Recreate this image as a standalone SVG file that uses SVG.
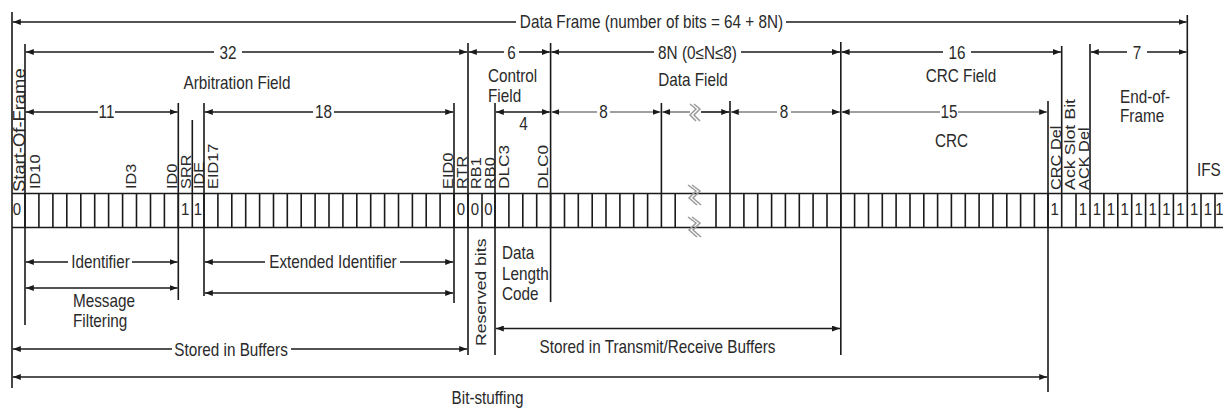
<svg xmlns="http://www.w3.org/2000/svg" width="1223" height="408" viewBox="0 0 1223 408">
<style>
.t{font-family:"Liberation Sans",Arial,sans-serif;font-size:15.3px;fill:#2a2a2a}
.m{text-anchor:middle}
.d{font-family:"Liberation Sans",Arial,sans-serif;font-size:15px;fill:#2a2a2a;text-anchor:middle}
.v{font-family:"Liberation Sans",Arial,sans-serif;font-size:14.2px;fill:#2a2a2a}
.ln{stroke:#1a1a1a;stroke-width:1.6;fill:none}
.gr{stroke:#808080;stroke-width:1.6;fill:none}
.a{marker-end:url(#ah)}
.s{marker-start:url(#ah)}
.b{marker-start:url(#ah);marker-end:url(#ah)}
.sq{stroke:#9a9a9a;stroke-width:1.5;fill:none}
</style>
<defs>
<marker id="ah" viewBox="0 0 10 10" refX="10" refY="5" markerWidth="8" markerHeight="6" markerUnits="userSpaceOnUse" orient="auto-start-reverse" preserveAspectRatio="none"><path d="M0,0 L10,5 L0,10 z" fill="#1a1a1a"/></marker>
</defs>
<rect width="1223" height="408" fill="#fff"/>

<g id="bit-row">
<path class="ln" d="M12,193.5 H1223 M12,227.5 H1223"/>
<path class="ln" stroke-width="1.4" d="M25,193.5V227.5 M38.9,193.5V227.5 M52.9,193.5V227.5 M66.8,193.5V227.5 M80.8,193.5V227.5 M94.7,193.5V227.5 M108.6,193.5V227.5 M122.6,193.5V227.5 M136.5,193.5V227.5 M150.5,193.5V227.5 M164.4,193.5V227.5 M178.3,193.5V227.5 M192.3,193.5V227.5 M204,193.5V227.5 M217.9,193.5V227.5 M231.8,193.5V227.5 M245.7,193.5V227.5 M259.6,193.5V227.5 M273.5,193.5V227.5 M287.3,193.5V227.5 M301.2,193.5V227.5 M315.1,193.5V227.5 M329,193.5V227.5 M342.9,193.5V227.5 M356.8,193.5V227.5 M370.7,193.5V227.5 M384.6,193.5V227.5 M398.5,193.5V227.5 M412.4,193.5V227.5 M426.2,193.5V227.5 M440.1,193.5V227.5 M454,193.5V227.5 M468,193.5V227.5 M482,193.5V227.5 M495,193.5V227.5 M508.9,193.5V227.5 M522.8,193.5V227.5 M536.7,193.5V227.5 M550.6,193.5V227.5 M564.5,193.5V227.5 M578.3,193.5V227.5 M592.2,193.5V227.5 M606,193.5V227.5 M619.9,193.5V227.5 M633.7,193.5V227.5 M647.6,193.5V227.5 M661.4,193.5V227.5 M675.2,193.5V227.5 M716,193.5V227.5 M730,193.5V227.5 M743.9,193.5V227.5 M757.7,193.5V227.5 M771.6,193.5V227.5 M785.4,193.5V227.5 M799.3,193.5V227.5 M813.1,193.5V227.5 M827,193.5V227.5 M840.8,193.5V227.5 M854.6,193.5V227.5 M868.5,193.5V227.5 M882.3,193.5V227.5 M896.1,193.5V227.5 M910,193.5V227.5 M923.8,193.5V227.5 M937.6,193.5V227.5 M951.4,193.5V227.5 M965.3,193.5V227.5 M979.1,193.5V227.5 M992.9,193.5V227.5 M1006.8,193.5V227.5 M1020.6,193.5V227.5 M1034.4,193.5V227.5 M1048,193.5V227.5 M1061.7,193.5V227.5 M1076,193.5V227.5 M1090,193.5V227.5 M1103.9,193.5V227.5 M1117.8,193.5V227.5 M1131.7,193.5V227.5 M1145.6,193.5V227.5 M1159.5,193.5V227.5 M1173.4,193.5V227.5 M1187.3,193.5V227.5 M1215,193.5V227.5"/>
<path class="ln" stroke-width="2.6" d="M1201,193.5V227.5"/>
<path class="sq" d="M688,185 L696,191 L689,198 L697,205 M692,185 L700,191 L693,198 L701,205"/>
<path class="sq" d="M688,217 L696,223 L689,230 L697,237 M692,217 L700,223 L693,230 L701,237"/>
<g id="bit-values">
<text class="d" transform="translate(17,215) scale(1,1.15)">0</text>
<text class="d" transform="translate(185.3,215) scale(1,1.15)">1</text>
<text class="d" transform="translate(198,215) scale(1,1.15)">1</text>
<text class="d" transform="translate(461,215) scale(1,1.15)">0</text>
<text class="d" transform="translate(475,215) scale(1,1.15)">0</text>
<text class="d" transform="translate(488.5,215) scale(1,1.15)">0</text>
<text class="d" transform="translate(1054.8,215) scale(1,1.15)">1</text>
<text class="d" transform="translate(1083,215) scale(1,1.15)">1</text>
<text class="d" transform="translate(1097,215) scale(1,1.15)">1</text>
<text class="d" transform="translate(1110.9,215) scale(1,1.15)">1</text>
<text class="d" transform="translate(1124.8,215) scale(1,1.15)">1</text>
<text class="d" transform="translate(1138.7,215) scale(1,1.15)">1</text>
<text class="d" transform="translate(1152.6,215) scale(1,1.15)">1</text>
<text class="d" transform="translate(1166.5,215) scale(1,1.15)">1</text>
<text class="d" transform="translate(1180.4,215) scale(1,1.15)">1</text>
<text class="d" transform="translate(1194.2,215) scale(1,1.15)">1</text>
<text class="d" transform="translate(1208,215) scale(1,1.15)">1</text>
<text class="d" transform="translate(1219.5,215) scale(1,1.15)">1</text>
</g>
</g>

<g id="bit-labels">
<text class="v" style="font-size:16px" transform="translate(24.5,192) rotate(-90) scale(1.15,1)">Start-Of-Frame</text>
<text class="v" transform="translate(39.5,189) rotate(-90) scale(1.15,1)">ID10</text>
<text class="v" transform="translate(135.5,189) rotate(-90) scale(1.15,1)">ID3</text>
<text class="v" transform="translate(177.3,189) rotate(-90) scale(1.15,1)">ID0</text>
<text class="v" transform="translate(191.3,189) rotate(-90) scale(1.15,1)">SRR</text>
<text class="v" transform="translate(203.5,189) rotate(-90) scale(1.15,1)">IDE</text>
<text class="v" transform="translate(218,189) rotate(-90) scale(1.15,1)">EID17</text>
<text class="v" transform="translate(453.3,189) rotate(-90) scale(1.15,1)">EID0</text>
<text class="v" transform="translate(467.3,189) rotate(-90) scale(1.15,1)">RTR</text>
<text class="v" transform="translate(481.3,189) rotate(-90) scale(1.15,1)">RB1</text>
<text class="v" transform="translate(494.5,189) rotate(-90) scale(1.15,1)">RB0</text>
<text class="v" style="font-size:15px" transform="translate(508.5,189) rotate(-90) scale(1.15,1)">DLC3</text>
<text class="v" style="font-size:15px" transform="translate(547.5,189) rotate(-90) scale(1.15,1)">DLC0</text>
<text class="v" transform="translate(1060.5,190) rotate(-90) scale(1.15,1)">CRC Del</text>
<text class="v" style="font-size:15.5px" transform="translate(1075,190) rotate(-90) scale(1.15,1)">Ack Slot Bit</text>
<text class="v" transform="translate(1088.5,190) rotate(-90) scale(1.15,1)">ACK Del</text>
<text class="t" transform="translate(1197,176) scale(1,1.15)">IFS</text>
</g>

<g id="connectors">
<path class="ln" d="M12,12 V388 M25,44 V325 M178.3,103 V300 M192.3,120 V193.5 M204,103 V296 M454,103 V303 M468,43 V355 M495,103 V355 M550.6,43 V302 M661.4,103 V193.5 M730,101 V193.5 M840.8,42 V355 M1048,101 V392 M1061.7,46 V193.5 M1090,44 V193.5 M1187.3,15 V193.5"/>
<path class="ln s" d="M12.8,22 H516"/>
<path class="ln a" d="M786,22 H1186.5"/>
<path class="ln s" d="M25.8,52 H214"/>
<path class="ln a" d="M242,52 H467.2"/>
<path class="ln s" d="M468.8,52 H504"/>
<path class="ln a" d="M519,52 H549.8"/>
<path class="ln s" d="M551.4,52 H654"/>
<path class="ln a" d="M741,52 H840"/>
<path class="ln s" d="M841.6,52 H943"/>
<path class="ln a" d="M971,52 H1060.9"/>
<path class="ln s" d="M1090.8,52 H1127"/>
<path class="ln a" d="M1147,52 H1186.5"/>
<path class="ln s" d="M25.8,112 H98"/>
<path class="ln a" d="M115,112 H177.5"/>
<path class="ln s" d="M204.8,112 H313"/>
<path class="ln a" d="M334,112 H453.2"/>
<path class="ln b" d="M495.8,112 H549.8"/>
<path class="gr s" d="M551.4,112 H597"/>
<path class="gr a" d="M610,112 H660.6"/>
<path class="gr s" d="M662.2,112 H690"/>
<path class="ln a" d="M701,112 H729.2"/>
<path class="sq" d="M690,104 L696,109 L690,115 L696,121 M694,104 L700,109 L694,115 L700,121"/>
<path class="gr s" d="M730.8,112 H777"/>
<path class="gr a" d="M791,112 H840"/>
<path class="gr s" d="M841.6,112 H940"/>
<path class="gr a" d="M958,112 H1047.2"/>
<path class="ln s" d="M25.8,262 H68"/>
<path class="ln a" d="M132,262 H177.5"/>
<path class="ln b" d="M25.8,288 H177.5"/>
<path class="ln s" d="M204.8,262 H265"/>
<path class="ln a" d="M400,262 H453.2"/>
<path class="ln b" d="M204.8,293 H453.2"/>
<path class="ln s" d="M12.8,349 H172"/>
<path class="ln a" d="M291,349 H467.2"/>
<path class="ln b" d="M495.8,328.5 H840"/>
<path class="ln b" d="M12.8,377 H1047.2"/>
</g>

<g id="field-labels">
<text class="t m" transform="translate(651.5,28) scale(1,1.15)">Data Frame (number of bits = 64 + 8N)</text>
<text class="t m" transform="translate(228,58.5) scale(1,1.15)">32</text>
<text class="t m" transform="translate(511.5,58.5) scale(1,1.15)">6</text>
<text class="t m" transform="translate(697.5,58.5) scale(1,1.15)">8N (0≤N≤8)</text>
<text class="t m" transform="translate(957,58.5) scale(1,1.15)">16</text>
<text class="t m" transform="translate(1137,58.5) scale(1,1.15)">7</text>
<text class="t m" transform="translate(237,89) scale(1,1.15)">Arbitration Field</text>
<text class="t" transform="translate(488,82) scale(1,1.15)">Control</text>
<text class="t" transform="translate(488,102) scale(1,1.15)">Field</text>
<text class="t m" transform="translate(693,86) scale(1,1.15)">Data Field</text>
<text class="t m" transform="translate(961,81.5) scale(1,1.15)">CRC Field</text>
<text class="t" transform="translate(1120,103.3) scale(1,1.15)">End-of-</text>
<text class="t" transform="translate(1120,121.7) scale(1,1.15)">Frame</text>
<text class="t m" transform="translate(106.5,118) scale(1,1.15)">11</text>
<text class="t m" transform="translate(323.5,118) scale(1,1.15)">18</text>
<text class="t m" transform="translate(523.5,130) scale(1,1.15)">4</text>
<text class="t m" transform="translate(603.5,118) scale(1,1.15)">8</text>
<text class="t m" transform="translate(784,118) scale(1,1.15)">8</text>
<text class="t m" transform="translate(949,118) scale(1,1.15)">15</text>
<text class="t m" transform="translate(951.5,146.7) scale(1,1.15)">CRC</text>
</g>

<g id="lower-labels">
<text class="t m" transform="translate(100.5,268) scale(1,1.15)">Identifier</text>
<text class="t" transform="translate(73,307) scale(1,1.15)">Message</text>
<text class="t" transform="translate(73,327) scale(1,1.15)">Filtering</text>
<text class="t m" transform="translate(333,268) scale(1,1.15)">Extended Identifier</text>
<text class="t m" transform="translate(231,355.5) scale(1,1.15)">Stored in Buffers</text>
<text class="t" transform="translate(486,346) rotate(-90) scale(1.15,1)">Reserved bits</text>
<text class="t" transform="translate(502,258.5) scale(1,1.15)">Data</text>
<text class="t" transform="translate(502,280) scale(1,1.15)">Length</text>
<text class="t" transform="translate(502,300) scale(1,1.15)">Code</text>
<text class="t m" transform="translate(657.5,353) scale(1,1.15)">Stored in Transmit/Receive Buffers</text>
<text class="t m" transform="translate(487.5,403.5) scale(1,1.15)">Bit-stuffing</text>
</g>
</svg>
